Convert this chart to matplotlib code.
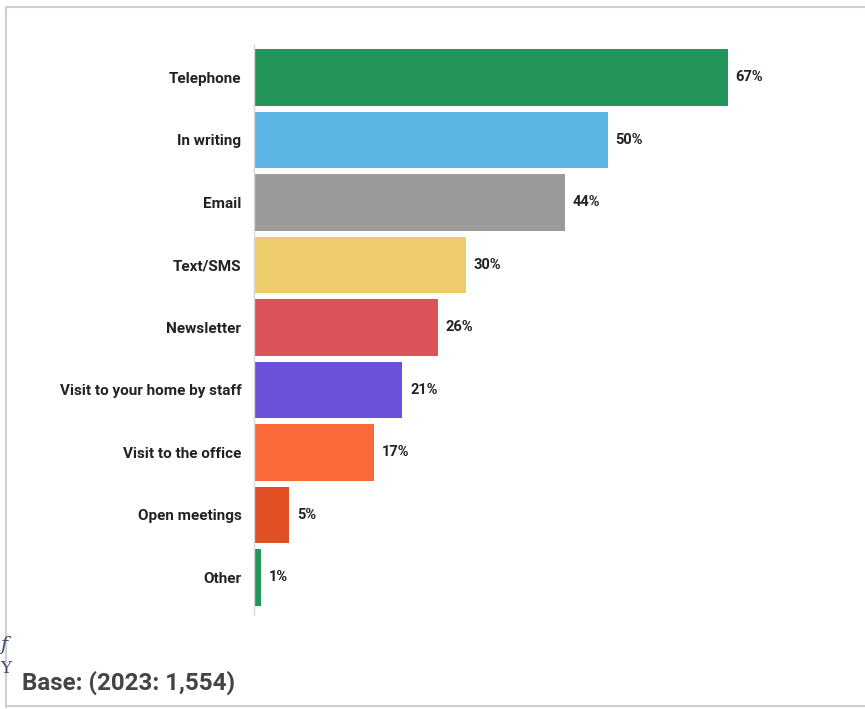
import matplotlib
matplotlib.use("Agg")
import matplotlib.pyplot as plt
from matplotlib.lines import Line2D

plt.rcParams['font.family'] = ['Roboto', 'DejaVu Sans']

# --- datos ---
canales = ["Telephone", "In writing", "Email", "Text/SMS", "Newsletter",
           "Visit to your home by staff", "Visit to the office",
           "Open meetings", "Other"]
porcentajes = [67, 50, 44, 30, 26, 21, 17, 5, 1]
colores = ["#23955a", "#5db5e5", "#9a9a9a", "#eecb6b", "#db5258",
           "#6b52d9", "#fb6b3a", "#e34f25", "#23955a"]
nota_base = "Base: (2023: 1,554)"

fig = plt.figure(figsize=(8.65, 7.09), dpi=100)
ax = fig.add_axes([0.2936, 0.1326, 0.654, 0.804])

pos = list(range(len(canales)))
barras = ax.barh(pos, porcentajes, height=0.9, color=colores)

for b, v in zip(barras, porcentajes):
    ax.annotate(f"{v}%", (b.get_width(), b.get_y() + b.get_height() / 2),
                xytext=(5.5, 0), textcoords="offset points",
                va="center", ha="left", fontsize=10.5, fontweight="bold",
                color="#222222")

ax.set_yticks(pos)
ax.set_yticklabels(canales, fontsize=11, fontweight="bold", color="#222222")
ax.tick_params(axis="y", length=0, pad=9)
ax.set_xticks([])
ax.set_xlim(0, 80)
ax.set_ylim(8.6, -0.52)

for s in ["top", "right", "bottom"]:
    ax.spines[s].set_visible(False)
ax.spines["left"].set_color("#d8d8d8")
ax.spines["left"].set_linewidth(1)

# nota al pie
fig.text(0.025, 0.037, nota_base, fontsize=17.4, fontweight="bold",
         color="#444444", va="center", ha="left")

# restos de texto a la izquierda (en el original salen recortados)
fig.text(0.0, 0.09, "f", fontsize=14, style="italic", family="DejaVu Serif",
         color="#3b4a70", va="center", ha="left")
fig.text(0.0, 0.057, "Y", fontsize=12, family="DejaVu Serif",
         color="#3b4a70", va="center", ha="left")

# marco gris
marco = dict(color="#d0d0d0", linewidth=1.5, transform=fig.transFigure)
fig.add_artist(Line2D([0.007, 1.0], [0.990, 0.990], **marco))
fig.add_artist(Line2D([0.007, 0.007], [0.003, 0.990], **marco))
fig.add_artist(Line2D([0.007, 1.0], [0.004, 0.004], **marco))

fig.savefig("out.png", dpi=100)
